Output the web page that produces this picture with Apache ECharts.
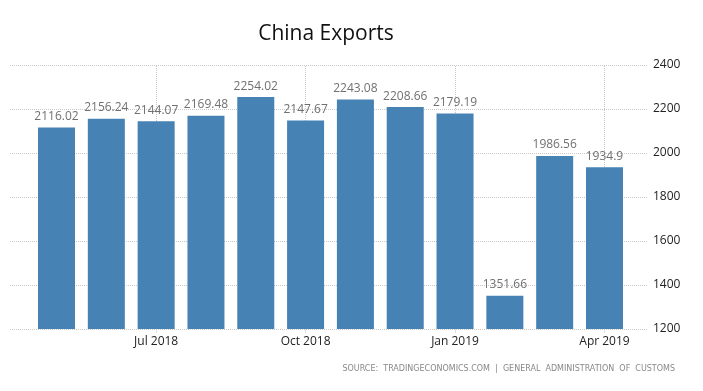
<!DOCTYPE html>
<html><head><meta charset="utf-8">
<script src="https://cdn.jsdelivr.net/npm/echarts@6/dist/echarts.min.js"></script>
<style>html,body{margin:0;padding:0;background:#fff}#c{width:703px;height:391px}</style>
</head><body><div id="c"></div>
<script>
const categories = ['May 2018','Jun 2018','Jul 2018','Aug 2018','Sep 2018','Oct 2018','Nov 2018','Dec 2018','Jan 2019','Feb 2019','Mar 2019','Apr 2019'];
const exportsValues = [2116.02, 2156.24, 2144.07, 2169.48, 2254.02, 2147.67, 2243.08, 2208.66, 2179.19, 1351.66, 1986.56, 1934.9];
const xTickLabels = ['Jul 2018', 'Oct 2018', 'Jan 2019', 'Apr 2019'];
const yTicks = [1200, 1400, 1600, 1800, 2000, 2200, 2400];

const showIdx = (i, v) => xTickLabels.indexOf(categories[i]) >= 0;

const chart = echarts.init(document.getElementById('c'));
chart.setOption({
  animation: false,
  title: {
    text: 'China Exports', left: 325, top: 19, textAlign: 'center',
    textStyle: { fontFamily: 'Open Sans', fontSize: 21, fontWeight: 'normal', color: '#111' }
  },
  grid: [
    { left: 10, right: 55, top: 65, bottom: 62 },
    { left: 31.6, right: 73.6, top: 65, bottom: 62 }
  ],
  xAxis: [
    { gridIndex: 0, type: 'category', data: categories, show: false },
    {
      gridIndex: 1, type: 'category', data: categories,
      axisLine: { show: false },
      axisTick: { show: true, alignWithLabel: true, interval: showIdx, length: 4, lineStyle: { color: '#ddd' } },
      splitLine: { show: false },
      axisLabel: { interval: showIdx, color: '#222', fontFamily: 'Open Sans', fontSize: 12, margin: 7 }
    }
  ],
  yAxis: [
    {
      gridIndex: 0, type: 'value', position: 'right', min: yTicks[0], max: yTicks[yTicks.length - 1], interval: 200,
      axisLine: { show: false }, axisTick: { show: false },
      splitLine: { lineStyle: { type: 'dotted', color: '#c8c8c8' } },
      axisLabel: { color: '#222', fontFamily: 'Open Sans', fontSize: 12, margin: 5, formatter: v => String(v) }
    },
    {
      gridIndex: 1, type: 'value', min: yTicks[0], max: yTicks[yTicks.length - 1], interval: 200, show: false,
      splitLine: { show: false }
    }
  ],
  series: [{
    type: 'bar', xAxisIndex: 1, yAxisIndex: 1, data: exportsValues, barWidth: 37,
    itemStyle: { color: '#4682B4' },
    label: { show: true, position: 'top', distance: 5, color: '#707070', fontFamily: 'Open Sans', fontSize: 12 },
    markLine: {
      silent: true, symbol: 'none', label: { show: false },
      lineStyle: { type: 'dotted', color: '#c8c8c8', width: 1 },
      z: 0,
      data: xTickLabels.map(c => ({ xAxis: c }))
    }
  }],
  graphic: [
    {
      type: 'text', left: 258, top: 21,
      style: { text: '', fill: '#111' }
    },
    {
      type: 'text', right: 28, top: 365,
      style: { text: 'SOURCE:  TRADINGECONOMICS.COM  |  GENERAL  ADMINISTRATION  OF  CUSTOMS', fill: '#888', font: '8px "DejaVu Sans"' }
    }
  ]
});
chart.setOption({ title: { left: 321 } });
</script></body></html>
